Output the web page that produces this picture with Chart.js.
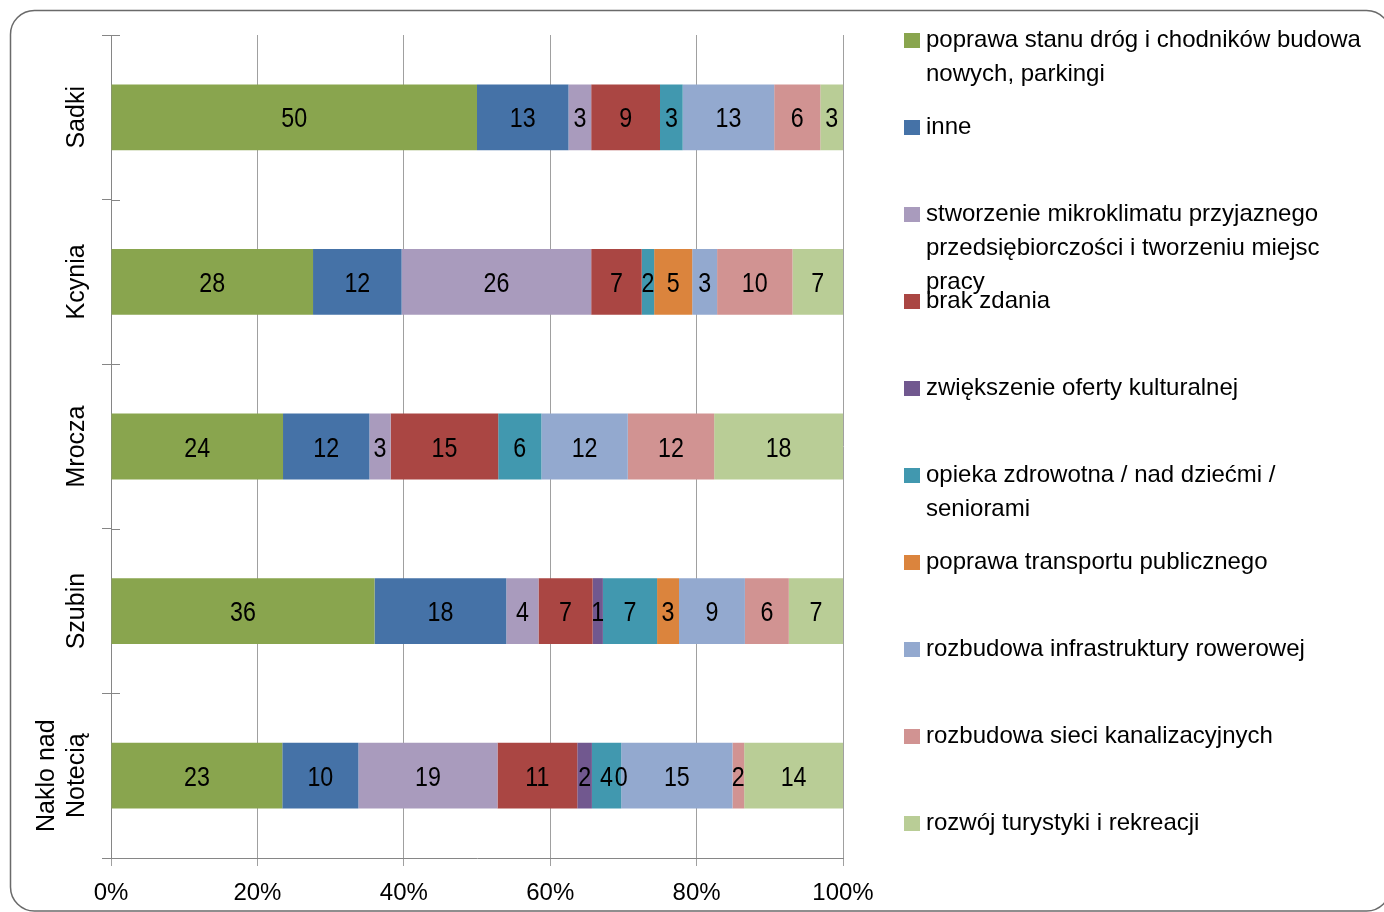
<!DOCTYPE html>
<html>
<head>
<meta charset="utf-8">
<script src="https://cdn.jsdelivr.net/npm/chart.js@4"></script>
<style>
html,body{margin:0;padding:0;background:#fff;}
canvas{display:block;}
</style>
</head>
<body>
<canvas id="c" width="1384" height="912"></canvas>
<script>
// ---- data ----
const categories = ['Sadki', 'Kcynia', 'Mrocza', 'Szubin', 'Naklo nad Notecią'];

const seriesNames = [
  'poprawa stanu dróg i chodników budowa nowych, parkingi',
  'inne',
  'stworzenie mikroklimatu przyjaznego przedsiębiorczości i tworzeniu miejsc pracy',
  'brak zdania',
  'zwiększenie oferty kulturalnej',
  'opieka zdrowotna / nad dziećmi / seniorami',
  'poprawa transportu publicznego',
  'rozbudowa infrastruktury rowerowej',
  'rozbudowa sieci kanalizacyjnych',
  'rozwój turystyki i rekreacji'
];

const seriesColors = ['#89A54E', '#4572A7', '#A99BBD', '#AA4643', '#71588F',
                      '#4198AF', '#DB843D', '#93A9CF', '#D19392', '#B9CD96'];

// percentage shares per category (Sadki, Kcynia, Mrocza, Szubin, Naklo nad Notecią)
const poprawaDrog  = [50.0, 27.6, 23.5, 36.0, 23.4];
const inne         = [12.5, 12.1, 11.8, 18.0, 10.4];
const mikroklimat  = [3.1, 25.9, 2.9, 4.4, 19.0];
const brakZdania   = [9.4, 6.9, 14.7, 7.4, 10.9];
const kultura      = [null, null, null, 1.4, 2.0];
const opieka       = [3.1, 1.7, 5.9, 7.4, 4.0];
const transport    = [null, 5.2, null, 3.0, 0];
const rowery       = [12.5, 3.4, 11.8, 9.0, 15.2];
const kanalizacja  = [6.3, 10.3, 11.8, 6.0, 1.6];
const turystyka    = [3.1, 6.9, 17.6, 7.4, 13.5];

const seriesValues = [poprawaDrog, inne, mikroklimat, brakZdania, kultura,
                      opieka, transport, rowery, kanalizacja, turystyka];

const xTicks = [0, 20, 40, 60, 80, 100];

// ---- styling helpers ----
const FONT = '"Liberation Sans", Arial, sans-serif';
const mctx = document.createElement('canvas').getContext('2d');

function wrapCategory(name) {
  if (name.length <= 12) return ['', name];
  const i = name.lastIndexOf(' ');
  return [name.slice(0, i), name.slice(i + 1)];
}
mctx.font = '25px ' + FONT;
const widestCat = Math.max(...categories.flatMap(wrapCategory).map(s => mctx.measureText(s).width));
const yTickPadding = 111 - 9 - 62 - widestCat / 2;

function wrapLegend(text, maxW) {
  mctx.font = '24px ' + FONT;
  const words = text.split(' ');
  const lines = [];
  let cur = '';
  words.forEach(w => {
    const t = cur ? cur + ' ' + w : w;
    if (cur && mctx.measureText(t).width > maxW) { lines.push(cur); cur = w; }
    else cur = t;
  });
  if (cur) lines.push(cur);
  return lines;
}

// ---- plugins ----
const frame = {
  id: 'frame',
  beforeDraw(chart) {
    const c = chart.ctx;
    c.save();
    c.fillStyle = '#fff';
    c.fillRect(0, 0, chart.width, chart.height);
    const x = 10.5, y = 10.5, w = 1380, h = 900.5, r = 24;
    c.beginPath();
    c.moveTo(x + r, y);
    c.lineTo(x + w - r, y);
    c.arcTo(x + w, y, x + w, y + r, r);
    c.lineTo(x + w, y + h - r);
    c.arcTo(x + w, y + h, x + w - r, y + h, r);
    c.lineTo(x + r, y + h);
    c.arcTo(x, y + h, x, y + h - r, r);
    c.lineTo(x, y + r);
    c.arcTo(x, y, x + r, y, r);
    c.closePath();
    c.strokeStyle = '#6a6a6a';
    c.lineWidth = 1.5;
    c.stroke();
    c.restore();
  }
};

const barLabels = {
  id: 'barLabels',
  afterDatasetsDraw(chart) {
    const c = chart.ctx;
    c.save();
    c.font = '28px ' + FONT;
    c.fillStyle = '#000';
    c.textAlign = 'center';
    c.textBaseline = 'alphabetic';
    chart.data.datasets.forEach((ds, i) => {
      const meta = chart.getDatasetMeta(i);
      if (meta.hidden) return;
      meta.data.forEach((el, j) => {
        const v = ds.data[j];
        if (v === null || v === undefined) return;
        const x = (el.x + el.base) / 2;
        c.save();
        c.translate(x, el.y + 10);
        c.scale(0.83, 1);
        c.fillText(String(Math.round(v)), 0, 0);
        c.restore();
      });
    });
    c.restore();
  }
};

const innerTicks = {
  id: 'innerTicks',
  afterDraw(chart) {
    const ys = chart.scales.y;
    const c = chart.ctx;
    c.save();
    c.strokeStyle = '#868686';
    c.lineWidth = 1;
    for (let i = 0; i <= categories.length; i++) {
      const py = Math.round(ys.getPixelForValue(i - 0.5)) + 0.5;
      c.beginPath();
      c.moveTo(ys.right, py);
      c.lineTo(ys.right + 9, py);
      c.stroke();
    }
    c.restore();
  }
};

const sideLegend = {
  id: 'sideLegend',
  afterDraw(chart) {
    const c = chart.ctx;
    c.save();
    c.font = '24px ' + FONT;
    c.textAlign = 'left';
    c.textBaseline = 'alphabetic';
    chart.data.datasets.forEach((ds, k) => {
      const cy = 40.5 + 87 * k;
      c.fillStyle = ds.backgroundColor;
      c.fillRect(904, cy - 7.5, 16, 15);
      c.fillStyle = '#000';
      wrapLegend(ds.label, 442).forEach((line, j) => {
        c.fillText(line, 926, 47 + 87 * k + 34 * j);
      });
    });
    c.restore();
  }
};

// ---- chart ----
Chart.defaults.font.family = FONT;
Chart.defaults.color = '#000';

new Chart(document.getElementById('c'), {
  type: 'bar',
  data: {
    labels: categories,
    datasets: seriesNames.map((name, i) => ({
      label: name,
      data: seriesValues[i],
      backgroundColor: seriesColors[i],
      borderWidth: 0,
      barPercentage: 0.4,
      categoryPercentage: 1.0
    }))
  },
  options: {
    indexAxis: 'y',
    responsive: false,
    devicePixelRatio: 1,
    animation: false,
    layout: { padding: { left: 0, top: 35, right: 541, bottom: 0 } },
    plugins: {
      legend: { display: false },
      tooltip: { enabled: false },
      title: { display: false }
    },
    scales: {
      x: {
        stacked: true,
        min: 0,
        max: 100,
        afterBuildTicks: s => { s.ticks = xTicks.map(v => ({ value: v })); },
        afterFit: s => { s.height = 54; },
        ticks: {
          callback: v => v + '%',
          font: { size: 24 },
          color: '#000',
          padding: 13,
          maxRotation: 0
        },
        grid: { color: '#a0a0a0', lineWidth: 1, tickLength: 8, drawTicks: true },
        border: { display: true, color: '#868686', width: 1 }
      },
      y: {
        stacked: true,
        afterFit: s => { s.width = 111; },
        ticks: {
          callback: (v, i) => wrapCategory(categories[i]),
          font: { size: 25 },
          color: '#000',
          minRotation: 90,
          maxRotation: 90,
          crossAlign: 'center',
          padding: yTickPadding,
          autoSkip: false
        },
        grid: { offset: true, drawOnChartArea: false, drawTicks: true, tickLength: 9, color: '#868686' },
        border: { display: true, color: '#868686', width: 1 }
      }
    }
  },
  plugins: [frame, barLabels, innerTicks, sideLegend]
});
</script>
</body>
</html>
